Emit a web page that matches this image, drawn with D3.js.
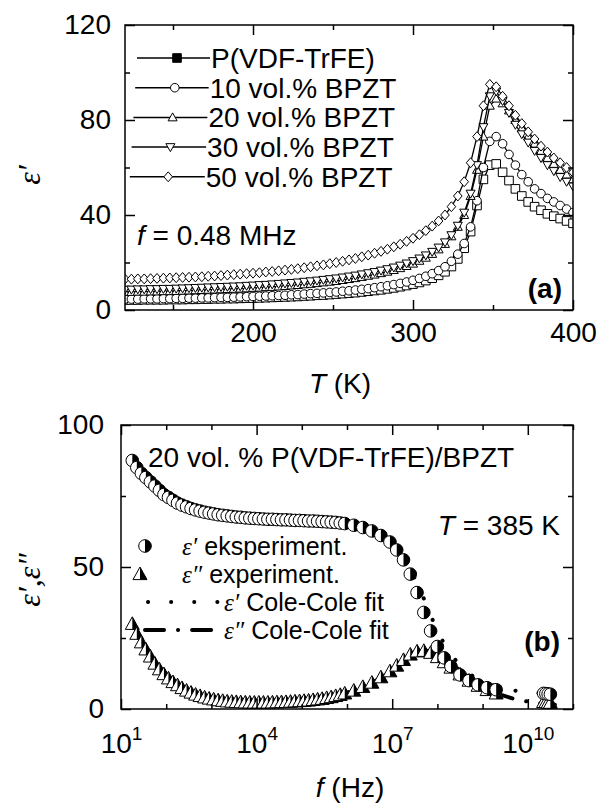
<!DOCTYPE html>
<html>
<head>
<meta charset="utf-8">
<script src="https://cdn.jsdelivr.net/npm/d3@7"></script>
<style>
  body { margin: 0; background: #fff; }
  svg { display: block; }
  text { font-family: "Liberation Sans", Arial, Helvetica, sans-serif; fill: #000; }
  .greek { font-family: "Liberation Serif", "Times New Roman", serif; font-style: italic; }
</style>
</head>
<body>
<svg id="chart" width="602" height="805"></svg>
<script>
// ---------- Panel (a): epsilon' vs temperature at 0.48 MHz ----------
const temps = [120,124,128,132,136,140,144,148,152,156,160,164,168,172,176,180,184,188,192,196,
  200,204,208,212,216,220,224,228,232,236,240,244,248,252,256,260,264,268,272,276,
  280,284,288,292,296,300,304,308,312,316,320,324,328,332,336,340,344,348,352,356,
  360,364,368,372,376,380,384,388,392,396,400];

const epsPure = [4.2,4.2,4.2,4.3,4.3,4.3,4.3,4.4,4.4,4.4, 4.5,4.5,4.6,4.6,4.7,4.7,4.8,4.8,4.9,5.0,
  5.0,5.1,5.2,5.3,5.4,5.5,5.6,5.7,5.9,6.0, 6.2,6.3,6.5,6.7,6.9,7.1,7.3,7.6,7.9,8.2,
  8.5,8.9,9.3,9.8,10.3,10.9,11.6,12.4,13.4,14.6, 16.1,18.3,21.5,26.0,33.0,44.0,55.0,61.0,61.5,58.0,
  54.5,51.0,48.0,45.5,43.5,42.0,40.5,39.5,38.5,37.5,36.5];
const eps10 = [4.6,4.6,4.6,4.7,4.7,4.7,4.8,4.8,4.9,4.9, 5.0,5.0,5.1,5.1,5.2,5.3,5.3,5.4,5.5,5.6,
  5.7,5.8,5.9,6.0,6.1,6.2,6.4,6.5,6.7,6.9, 7.0,7.2,7.4,7.6,7.9,8.1,8.4,8.7,9.0,9.4,
  9.8,10.2,10.7,11.2,11.8,12.5,13.3,14.2,15.3,16.6, 18.2,20.5,23.5,28.0,35.0,46.0,60.0,71.0,73.0,70.0,
  65.5,61.0,57.0,54.0,51.0,49.0,47.0,45.5,44.0,42.5,41.0];
const eps20 = [7.6,7.6,7.7,7.7,7.8,7.8,7.9,7.9,8.0,8.1, 8.2,8.3,8.4,8.5,8.6,8.7,8.8,8.9,9.0,9.1,
  9.3,9.4,9.6,9.7,9.9,10.1,10.3,10.5,10.8,11.0, 11.3,11.6,11.9,12.2,12.6,13.0,13.4,13.9,14.4,14.9,
  15.5,16.1,16.8,17.6,18.5,19.5,20.7,22.0,23.6,25.5, 27.8,31.0,35.0,40.0,48.0,59.0,73.0,86.0,89.0,87.0,
  84.0,80.0,76.5,73.0,70.0,67.0,64.0,61.5,59.0,57.0,55.0];
const eps30 = [8.6,8.6,8.7,8.7,8.8,8.8,8.9,8.9,9.0,9.1, 9.2,9.3,9.4,9.5,9.6,9.7,9.8,9.9,10.0,10.2,
  10.3,10.5,10.6,10.8,11.0,11.2,11.4,11.6,11.9,12.1, 12.4,12.7,13.0,13.3,13.7,14.1,14.5,15.0,15.5,16.0,
  16.6,17.2,17.9,18.7,19.6,20.6,21.7,23.0,24.5,26.3, 28.5,31.5,35.5,41.0,49.0,61.0,77.0,90.0,92.0,88.0,
  83.0,78.0,74.0,70.5,67.0,64.0,61.0,58.5,56.0,54.0,52.0];
const eps50 = [13.0,13.0,13.1,13.1,13.2,13.3,13.4,13.5,13.6,13.7, 13.8,13.9,14.0,14.2,14.3,14.5,14.7,14.9,15.1,15.3,
  15.5,15.7,16.0,16.2,16.5,16.8,17.1,17.4,17.8,18.2, 18.6,19.0,19.5,20.0,20.5,21.1,21.7,22.4,23.1,23.9,
  24.7,25.6,26.6,27.7,28.9,30.2,31.7,33.4,35.3,37.5, 40.0,43.5,48.0,54.0,62.0,73.0,86.0,95.0,94.0,90.0,
  86.0,82.0,78.5,75.0,72.0,69.0,66.5,64.0,62.0,60.0,58.0];

const seriesNamesA = ["P(VDF-TrFE)", "10 vol.% BPZT", "20 vol.% BPZT", "30 vol.% BPZT", "50 vol.% BPZT"];
const seriesA = [epsPure, eps10, eps20, eps30, eps50];
const markersA = ["square", "circle", "triangle", "triangleDown", "diamond"];
const tempTicks = [200, 300, 400];
const tempMinor = [150, 250, 350];
const epsTicksA = [0, 40, 80, 120];
const epsMinorA = [20, 60, 100];

// ---------- Panel (b): 20 vol.% composite at 385 K vs frequency ----------
const freqLog = [1.25,1.35,1.45,1.55,1.65,1.75,1.85,1.95,2.05,2.15,2.25,2.35,2.45,2.55,2.65,2.75,2.85,2.95,
  3.05,3.15,3.25,3.35,3.45,3.55,3.65,3.75,3.85,3.95,4.05,4.15,4.25,4.35,4.45,4.55,4.65,4.75,4.85,4.95,
  5.05,5.15,5.25,5.35,5.45,5.55,5.65,5.75,5.85,5.95,
  6.15,6.35,6.55,6.75,6.95,7.1,7.25,7.4,7.55,7.7,7.85,8.0,8.15,8.3,8.5,8.7,8.9,9.1,9.3,
  10.35,10.4,10.45,10.5];
const epsReal = [87.5,85,83,81.5,80,78.5,77,75.5,74.5,73.5,72.5,71.8,71.2,70.6,70.1,69.7,69.3,69,
  68.7,68.4,68.2,68,67.8,67.6,67.5,67.3,67.2,67.1,67,66.9,66.8,66.8,66.7,66.6,66.6,66.5,66.4,66.4,
  66.3,66.2,66.2,66.1,66,65.9,65.8,65.7,65.5,65.3,
  64.7,63.9,62.7,61.1,58.8,56,52.5,47.5,41,34,27.5,22,18,15,12,10,8.5,7.5,6.8,
  5.5,5.4,5.3,5.2];
const epsImag = [30,26.5,23.5,21,18.5,16,14,12.3,10.8,9.5,8.4,7.4,6.5,5.8,5.1,4.6,4.1,3.7,
  3.4,3.1,2.9,2.7,2.6,2.5,2.4,2.35,2.3,2.3,2.3,2.3,2.3,2.35,2.4,2.45,2.5,2.6,2.7,2.8,
  2.9,3.0,3.2,3.4,3.6,3.9,4.2,4.6,5.0,5.5,
  6.5,7.8,9.3,11.2,13.3,15.3,17.3,19.2,20.3,20.5,19.8,18.3,16.5,14.6,12.2,10,8.2,6.7,5.5,
  2.5,2.4,2.3,2.2];

const fitLog = [1.25,1.5,1.75,2,2.25,2.5,2.75,3,3.5,4,4.5,5,5.5,6,6.25,6.5,6.75,7,7.25,7.5,7.75,8,
  8.25,8.5,8.75,9,9.25,9.5,9.75,10,10.25,10.5,10.6];
const fitReal = [87,82,78.5,75.5,72.8,70.8,69.5,68.8,67.6,67,66.6,66.2,65.8,65,64.3,63,61,58,53.5,46,37,27.5,
  20.5,15.5,12,9.8,8.2,7.1,6.4,5.9,5.6,5.4,5.3];
const fitImag = [31,22,16.5,12,8.6,6.3,4.6,3.6,2.6,2.3,2.5,3,4,5.8,7,8.8,11,13.5,16.3,19.2,20.5,19.5,
  16.8,13.5,10.5,8,6,4.5,3.4,2.6,2,1.6,1.5];

const freqTicks = [1e1, 1e4, 1e7, 1e10];
const freqMinor = [1e2, 1e3, 1e5, 1e6, 1e8, 1e9, 1e11];
const epsTicksB = [0, 50, 100];
const epsMinorB = [25, 75];

// ---------- helpers ----------
const svg = d3.select("#chart");
const FONT = 28;

function markerPath(type, h) {
  const p = d3.path();
  if (type === "square") { p.rect(-h, -h, 2 * h, 2 * h); }
  else if (type === "triangle") { p.moveTo(0, -h * 1.05); p.lineTo(h * 1.05, h * 0.8); p.lineTo(-h * 1.05, h * 0.8); p.closePath(); }
  else if (type === "triangleDown") { p.moveTo(0, h * 1.05); p.lineTo(h * 1.05, -h * 0.8); p.lineTo(-h * 1.05, -h * 0.8); p.closePath(); }
  else if (type === "diamond") { p.moveTo(0, -h * 1.15); p.lineTo(h * 1.0, 0); p.lineTo(0, h * 1.15); p.lineTo(-h * 1.0, 0); p.closePath(); }
  else { p.arc(0, 0, h, 0, 2 * Math.PI); }
  return p.toString();
}

function styleAxis(g) {
  g.selectAll(".domain").remove();
  g.selectAll(".tick line").attr("stroke", "#000").attr("stroke-width", 1.5);
  g.attr("font-family", null).attr("font-size", null);
  g.selectAll(".tick text").attr("font-size", FONT).attr("fill", "#000");
}

function drawFrame(g, x, y, o) {
  const [xl, xr] = x.range();
  const [yb, yt] = y.range();
  const add = (gen, tx, ty) => g.append("g").attr("transform", `translate(${tx},${ty})`).call(gen).call(styleAxis);
  add(d3.axisBottom(x).tickValues(o.xMajor).tickSizeInner(-10).tickSizeOuter(0).tickPadding(o.xPad).tickFormat(o.xFormat), 0, yb);
  add(d3.axisBottom(x).tickValues(o.xMinor).tickSizeInner(-5).tickSizeOuter(0).tickFormat(""), 0, yb);
  add(d3.axisTop(x).tickValues(o.xMajor).tickSizeInner(-10).tickSizeOuter(0).tickFormat(""), 0, yt);
  add(d3.axisTop(x).tickValues(o.xMinor).tickSizeInner(-5).tickSizeOuter(0).tickFormat(""), 0, yt);
  add(d3.axisLeft(y).tickValues(o.yMajor).tickSizeInner(-10).tickSizeOuter(0).tickPadding(o.yPad).tickFormat(d3.format("d")), xl, 0);
  add(d3.axisLeft(y).tickValues(o.yMinor).tickSizeInner(-5).tickSizeOuter(0).tickFormat(""), xl, 0);
  add(d3.axisRight(y).tickValues(o.yMajor).tickSizeInner(-10).tickSizeOuter(0).tickFormat(""), xr, 0);
  add(d3.axisRight(y).tickValues(o.yMinor).tickSizeInner(-5).tickSizeOuter(0).tickFormat(""), xr, 0);
  g.append("rect").attr("x", xl).attr("y", yt).attr("width", xr - xl).attr("height", yb - yt)
    .attr("fill", "none").attr("stroke", "#000").attr("stroke-width", 1.5);
}

// ---------- Panel (a) ----------
const xA = d3.scaleLinear().domain([120, 400]).range([125, 573]);
const yA = d3.scaleLinear().domain([0, 120]).range([310, 25]);
const gA = svg.append("g");

const clipA = svg.append("clipPath").attr("id", "clipA");
clipA.append("rect").attr("x", 125).attr("y", 25).attr("width", 448).attr("height", 285);

const plotA = gA.append("g").attr("clip-path", "url(#clipA)");
const lineA = d3.line().x((d, i) => xA(temps[i])).y(d => yA(d));
seriesA.forEach((vals, k) => {
  const s = plotA.append("g");
  s.append("path").attr("d", lineA(vals)).attr("fill", "none").attr("stroke", "#000").attr("stroke-width", 1.3);
  s.selectAll("path.m").data(vals).join("path").attr("class", "m")
    .attr("transform", (d, i) => `translate(${xA(temps[i])},${yA(d)})`)
    .attr("d", markerPath(markersA[k], 4.3))
    .attr("fill", "#fff").attr("stroke", "#000").attr("stroke-width", 1);
});

drawFrame(gA, xA, yA, {
  xMajor: tempTicks, xMinor: tempMinor, yMajor: epsTicksA, yMinor: epsMinorA,
  xPad: 12, yPad: 14, xFormat: d3.format("d")
});

// legend (a)
const legA = gA.append("g");
seriesNamesA.forEach((name, i) => {
  const yy = 58 + i * 29.7;
  const x1 = 137 - 1.8 * i, x2 = 210 - 1.3 * i, xm = 177 - 2.2 * i;
  legA.append("line").attr("x1", x1).attr("x2", x2).attr("y1", yy).attr("y2", yy)
    .attr("stroke", "#000").attr("stroke-width", 1.5);
  legA.append("path").attr("transform", `translate(${xm},${yy})`)
    .attr("d", markerPath(markersA[i], 4.3))
    .attr("fill", i === 0 ? "#000" : "#fff").attr("stroke", "#000").attr("stroke-width", 1);
  legA.append("text").attr("x", x2 + 1).attr("y", yy + 10).attr("font-size", FONT).text(name);
});

const fText = gA.append("text").attr("x", 137).attr("y", 245).attr("font-size", FONT);
fText.append("tspan").attr("font-style", "italic").text("f");
fText.append("tspan").text(" = 0.48 MHz");

gA.append("text").attr("x", 562).attr("y", 298).attr("text-anchor", "end")
  .attr("font-size", FONT).attr("font-weight", "bold").text("(a)");

const tLab = gA.append("text").attr("x", 340).attr("y", 393).attr("text-anchor", "middle").attr("font-size", FONT);
tLab.append("tspan").attr("font-style", "italic").text("T");
tLab.append("tspan").text(" (K)");

gA.append("text").attr("class", "greek").attr("transform", "translate(40,175) rotate(-90)")
  .attr("text-anchor", "middle").attr("font-size", 32).text("ε′");

// ---------- Panel (b) ----------
const xB = d3.scaleLog().domain([1e1, 1e11]).range([121, 573]);
const yB = d3.scaleLinear().domain([0, 100]).range([709, 425]);
const gB = svg.append("g");

const clipB = svg.append("clipPath").attr("id", "clipB");
clipB.append("rect").attr("x", 121).attr("y", 425).attr("width", 452).attr("height", 284);
const plotB = gB.append("g").attr("clip-path", "url(#clipB)");

const fitLineR = d3.line().curve(d3.curveMonotoneX).x((d, i) => xB(Math.pow(10, fitLog[i]))).y(d => yB(d));
plotB.append("path").attr("d", fitLineR(fitReal)).attr("fill", "none").attr("stroke", "#000")
  .attr("stroke-width", 4).attr("stroke-linecap", "round").attr("stroke-dasharray", "0.1 23");
plotB.append("path").attr("d", fitLineR(fitImag)).attr("fill", "none").attr("stroke", "#000")
  .attr("stroke-width", 4).attr("stroke-linecap", "round").attr("stroke-dasharray", "19 14 0.1 14");

const halfCircle = r => `M0,${-r}A${r},${r} 0 0 1 0,${r}Z`;
const triFull = h => `M0,${-h}L${h},${h * 0.8}L${-h},${h * 0.8}Z`;
const triHalf = h => `M0,${-h}L${h},${h * 0.8}L0,${h * 0.8}Z`;

function halfMarkers(g, vals, shape) {
  const m = g.selectAll("g.pt").data(vals).join("g").attr("class", "pt")
    .attr("transform", (d, i) => `translate(${xB(Math.pow(10, freqLog[i]))},${yB(d)})`);
  if (shape === "circle") {
    m.append("circle").attr("r", 6.3).attr("fill", "#fff").attr("stroke", "#000").attr("stroke-width", 1);
    m.append("path").attr("d", halfCircle(6.3)).attr("fill", "#000");
  } else {
    m.append("path").attr("d", triFull(7)).attr("fill", "#fff").attr("stroke", "#000").attr("stroke-width", 1);
    m.append("path").attr("d", triHalf(7)).attr("fill", "#000");
  }
}
halfMarkers(plotB.append("g"), epsImag, "triangle");
halfMarkers(plotB.append("g"), epsReal, "circle");

drawFrame(gB, xB, yB, {
  xMajor: freqTicks, xMinor: freqMinor, yMajor: epsTicksB, yMinor: epsMinorB,
  xPad: 24, yPad: 17, xFormat: d => "10^" + Math.round(Math.log10(d))
});
// superscript decade labels
gB.selectAll(".tick text").filter(function () { return (this.textContent || "").indexOf("10^") === 0; })
  .each(function () {
    const e = this.textContent.slice(3);
    const t = d3.select(this).text("");
    t.append("tspan").text("10");
    t.append("tspan").attr("dy", -13).attr("font-size", 19).text(e);
  });

// legend (b)
const LEGB = 25;
const legB = gB.append("g");
const lm1 = legB.append("g").attr("transform", "translate(145,546)");
lm1.append("circle").attr("r", 6.3).attr("fill", "#fff").attr("stroke", "#000");
lm1.append("path").attr("d", halfCircle(6.3)).attr("fill", "#000");
const lm2 = legB.append("g").attr("transform", "translate(140,574)");
lm2.append("path").attr("d", triFull(7)).attr("fill", "#fff").attr("stroke", "#000");
lm2.append("path").attr("d", triHalf(7)).attr("fill", "#000");
legB.append("line").attr("x1", 148).attr("x2", 218).attr("y1", 602).attr("y2", 602)
  .attr("stroke", "#000").attr("stroke-width", 4).attr("stroke-linecap", "round").attr("stroke-dasharray", "0.1 23");
legB.append("line").attr("x1", 145).attr("x2", 222).attr("y1", 630).attr("y2", 630)
  .attr("stroke", "#000").attr("stroke-width", 4).attr("stroke-linecap", "round").attr("stroke-dasharray", "19 14 0.1 14");

const legTexts = [
  { x: 182, y: 555, g: "ε′", t: " eksperiment." },
  { x: 182, y: 583, g: "ε″", t: " experiment." },
  { x: 224, y: 611, g: "ε′", t: " Cole-Cole fit" },
  { x: 224, y: 639, g: "ε″", t: " Cole-Cole fit" }
];
legTexts.forEach(d => {
  const t = legB.append("text").attr("x", d.x).attr("y", d.y).attr("font-size", LEGB);
  t.append("tspan").attr("class", "greek").text(d.g);
  t.append("tspan").text(d.t);
});

gB.append("text").attr("x", 148).attr("y", 467).attr("font-size", FONT).text("20 vol. % P(VDF-TrFE)/BPZT");
const tb = gB.append("text").attr("x", 560).attr("y", 535).attr("text-anchor", "end").attr("font-size", FONT);
tb.append("tspan").attr("font-style", "italic").text("T");
tb.append("tspan").text(" = 385 K");
gB.append("text").attr("x", 560).attr("y", 651).attr("text-anchor", "end")
  .attr("font-size", FONT).attr("font-weight", "bold").text("(b)");

const fLab = gB.append("text").attr("x", 350).attr("y", 797).attr("text-anchor", "middle").attr("font-size", FONT);
fLab.append("tspan").attr("font-style", "italic").text("f");
fLab.append("tspan").text(" (Hz)");

gB.append("text").attr("class", "greek").attr("transform", "translate(40,580) rotate(-90)")
  .attr("text-anchor", "middle").attr("font-size", 32).text("ε′,ε″");
</script>
</body>
</html>
